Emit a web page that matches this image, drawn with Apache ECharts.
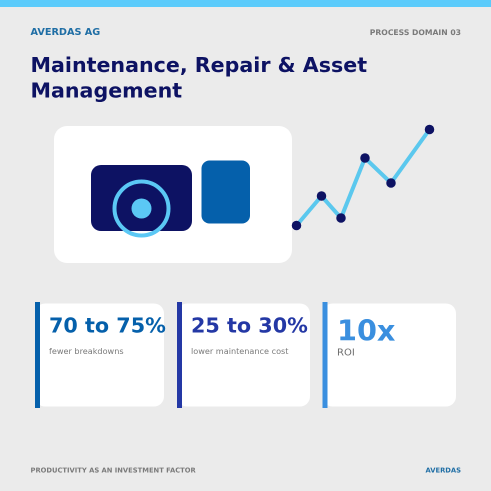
<!DOCTYPE html>
<html><head><meta charset="utf-8">
<style>html,body{margin:0;padding:0;background:#ebebeb}#c{width:491px;height:491px}</style>
<script src="https://cdn.jsdelivr.net/npm/echarts@6/dist/echarts.min.js"></script>
</head><body><div id="c"></div>
<script>
const trendX = [0, 25, 44.5, 68.5, 94.5, 133];
const trendY = [0, 29.5, 7.5, 67.5, 42.5, 96];
const company = 'AVERDAS AG';
const domain = 'PROCESS DOMAIN 03';
const titleLines = ['Maintenance, Repair & Asset', 'Management'];
const statValues = ['70 to 75%', '25 to 30%', '10x'];
const statLabels = ['fewer breakdowns', 'lower maintenance cost', 'ROI'];
const footerLeft = 'PRODUCTIVITY AS AN INVESTMENT FACTOR';
const footerRight = 'AVERDAS';

const F = '"DejaVu Sans"';
const txt = (x, y, text, size, weight, fill, align) => ({
  type: 'text', x, y, z: 5,
  style: { text, font: `${weight} ${size}px ${F}`, fill, align: align || 'left', verticalAlign: 'middle' }
});
const rect = (x, y, width, height, r, fill) => ({
  type: 'rect', z: 1, shape: { x, y, width, height, r }, style: { fill }
});
const chart = echarts.init(document.getElementById('c'), null, { renderer: 'canvas', devicePixelRatio: 2 });
chart.setOption({
  animation: false,
  backgroundColor: '#ebebeb',
  grid: { left: 296.5, top: 129.5, width: 133, height: 96, containLabel: false },
  xAxis: { type: 'value', min: 0, max: 133, show: false },
  yAxis: { type: 'value', min: 0, max: 96, show: false },
  series: [{
    type: 'line', z: 3, data: trendX.map((x, i) => [x, trendY[i]]),
    lineStyle: { color: '#5bc8ee', width: 4, join: 'miter', cap: 'butt' },
    itemStyle: { color: '#0d1263', opacity: 1 },
    symbol: 'circle', symbolSize: 9.5, showSymbol: true, clip: false
  }],
  graphic: [
    rect(0, 0, 491, 7, 0, '#5bcbfb'),
    txt(30.5, 32.5, company, 9.7, 'bold', '#1f6ea5'),
    txt(461, 33, domain, 7.67, 'bold', '#7a7a7a', 'right'),
    txt(30.5, 66.5, titleLines[0], 20.6, 'bold', '#0d1263'),
    txt(30.5, 92, titleLines[1], 20.6, 'bold', '#0d1263'),
    rect(54, 126, 238, 137, 13, '#ffffff'),
    rect(91, 165, 101, 66, 10, '#0d1263'),
    rect(201.5, 160.5, 48.5, 63, 8, '#0560ab'),
    { type: 'circle', z: 2, shape: { cx: 141.5, cy: 208.5, r: 27 }, style: { fill: 'none', stroke: '#5bc8f5', lineWidth: 4 } },
    { type: 'circle', z: 2, shape: { cx: 141.5, cy: 208.5, r: 10 }, style: { fill: '#5bc8f5' } },
    rect(35, 303.5, 129, 103, 10, '#ffffff'),
    rect(177, 303.5, 133, 103, 10, '#ffffff'),
    rect(322.5, 303.5, 133.5, 103, 10, '#ffffff'),
    rect(35, 302, 5, 106, 0, '#0560ab'),
    rect(177, 302, 5, 106, 0, '#2438a5'),
    rect(322.5, 302, 5, 106, 0, '#3a8fdf'),
    txt(49, 327, statValues[0], 20.7, 'bold', '#0560ab'),
    txt(191, 327, statValues[1], 20.7, 'bold', '#2438a5'),
    txt(337, 333, statValues[2], 28.7, 'bold', '#3a8fdf'),
    txt(49, 352, statLabels[0], 8.15, 'normal', '#7a7a7a'),
    txt(191, 352, statLabels[1], 8.15, 'normal', '#7a7a7a'),
    txt(337, 353, statLabels[2], 10, 'normal', '#6e6e6e'),
    txt(30.5, 470.5, footerLeft, 6.75, 'bold', '#7a7a7a'),
    txt(461, 470.5, footerRight, 6.75, 'bold', '#1f6ea5', 'right')
  ]
});
</script></body></html>
